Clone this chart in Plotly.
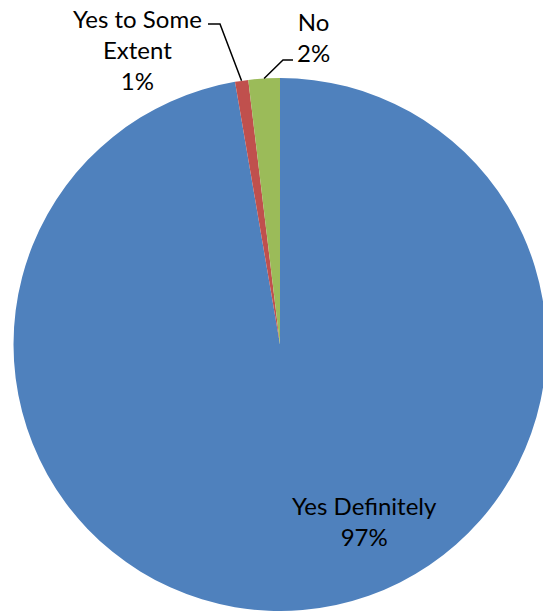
import math
import plotly.graph_objects as go

categories = ["Yes Definitely", "Yes to Some Extent", "No"]
values = [97.3, 0.8, 1.9]
colors = ["#4F81BD", "#C0504D", "#9BBB59"]

W, H = 548, 611          # figure slightly wider than the 543px window: pie is cut at the right like the original
cx, cy, r = 280.0, 345.0, 267.0

def px(x):
    return x / W

def py(y):
    return 1 - y / H

fig = go.Figure(go.Pie(
    labels=categories, values=values, sort=False, direction="clockwise",
    rotation=0, textinfo="none", hoverinfo="label+percent",
    marker=dict(colors=colors, line=dict(width=0)),
    domain=dict(x=[px(cx - r), min(1.0, px(cx + r))], y=[max(0.0, py(cy + r)), py(cy - r)]),
    showlegend=False,
))

total = sum(values)
pct = [round(v / total * 100) for v in values]

# edge points at slice mid-angles
cum = 0
edge = []
for v in values:
    mid = (cum + v / 2) / total * 2 * math.pi
    edge.append((cx + r * math.sin(mid), cy - r * math.cos(mid)))
    cum += v

font = dict(family="Lato", size=24, color="#000000")

label_pos = [(364, 521), (137, 49), (313, 37)]
texts = [
    f"{categories[0]}<br>{pct[0]}%",
    f"Yes to Some<br>Extent<br>{pct[1]}%",
    f"{categories[2]}<br>{pct[2]}%",
]
for (x, y), t in zip(label_pos, texts):
    fig.add_annotation(x=px(x), y=py(y), xref="paper", yref="paper",
                       text=t, showarrow=False, font=font,
                       xanchor="center", yanchor="middle", align="center")

# leader lines
elbows = [None, [(220, 24), (208, 24)], [(283, 60), (293, 60)]]
for i, e in enumerate(elbows):
    if e is None:
        continue
    pts = [edge[i]] + e
    path = "M " + " L ".join(f"{px(x)},{py(y)}" for x, y in pts)
    fig.add_shape(type="path", path=path, xref="paper", yref="paper",
                  line=dict(color="#000000", width=1.5))

fig.update_layout(width=W, height=H, margin=dict(l=0, r=0, t=0, b=0),
                  paper_bgcolor="#FFFFFF", plot_bgcolor="#FFFFFF")
fig.write_html("out.html", config={"displayModeBar": False},
               post_script="document.body.style.margin='0';document.body.style.overflow='hidden';")
